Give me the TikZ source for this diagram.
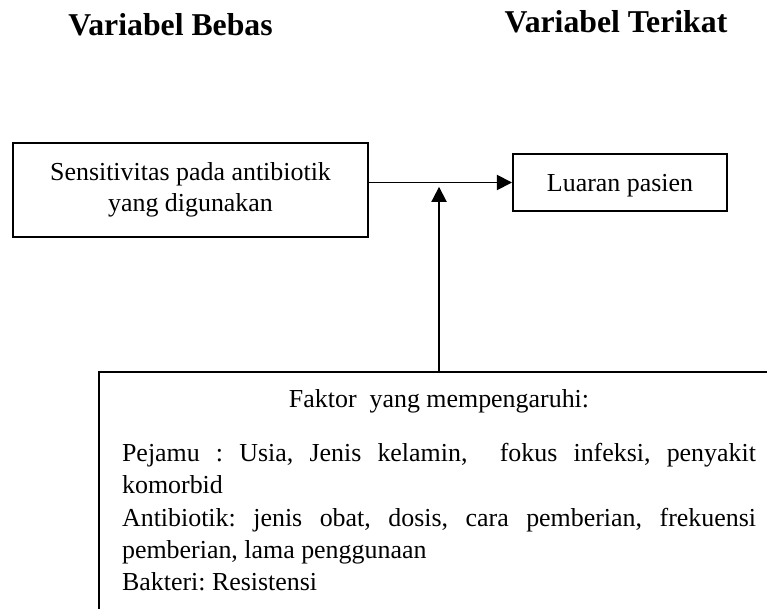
\documentclass[tikz,border=0pt]{standalone}
\usepackage{fontspec}
\setmainfont{Liberation Serif}
\usetikzlibrary{arrows.meta}
\setlength{\parindent}{0pt}
\frenchspacing
\tikzset{
	header/.style={font=\fontsize{14.7}{17}\selectfont\bfseries, anchor=base, inner sep=0pt},
	varbox/.style={draw, line width=1pt, font=\fontsize{12}{14.6}\selectfont, align=center, inner sep=0pt},
	link/.style={line width=0.85pt, -{Triangle[length=7pt,width=7pt]}}
}

\begin{document}
\begin{tikzpicture}[x=0.463pt, y=-0.463pt]
	\useasboundingbox (0,0) rectangle (767,608);
	\clip (0,0) rectangle (767,608);
	% column headers
	\node[header] (bebas) at (170.5,36) {Variabel Bebas};
	\node[header] (terikat) at (616,33) {Variabel Terikat};
	% variables
	\node[varbox, minimum width=164.4pt, minimum height=43.5pt] (sens) at (190.5,190) {Sensitivitas pada antibiotik\\yang digunakan};
	\node[varbox, minimum width=99pt, minimum height=26.4pt, text depth=0pt] (luaran) at (620,182.5) {Luaran pasien};
	% influencing factors, box runs off the page
	\node[draw, line width=1pt, anchor=north west, text width=293.5pt, align=justify, inner xsep=10.65pt, inner ysep=8pt, font=\fontsize{12}{15}\selectfont] (faktor) at (98,371)
	{
		{\centering Faktor~ yang mempengaruhi:\par}
		\vspace{10pt}
		Pejamu : Usia, Jenis kelamin,~ fokus infeksi, penyakit\linebreak komorbid\par
		Antibiotik: jenis obat, dosis, cara pemberian, frekuensi\linebreak pemberian, lama penggunaan\par
		Bakteri: Resistensi\par
		\mbox{}
	};
	\coordinate (junct) at (faktor.north |- luaran.west);
	\draw[link] (sens.east |- luaran.west) -- (luaran.west);
	\draw[link] (faktor.north) -- ([yshift=-2pt]junct);
\end{tikzpicture}
\end{document}
